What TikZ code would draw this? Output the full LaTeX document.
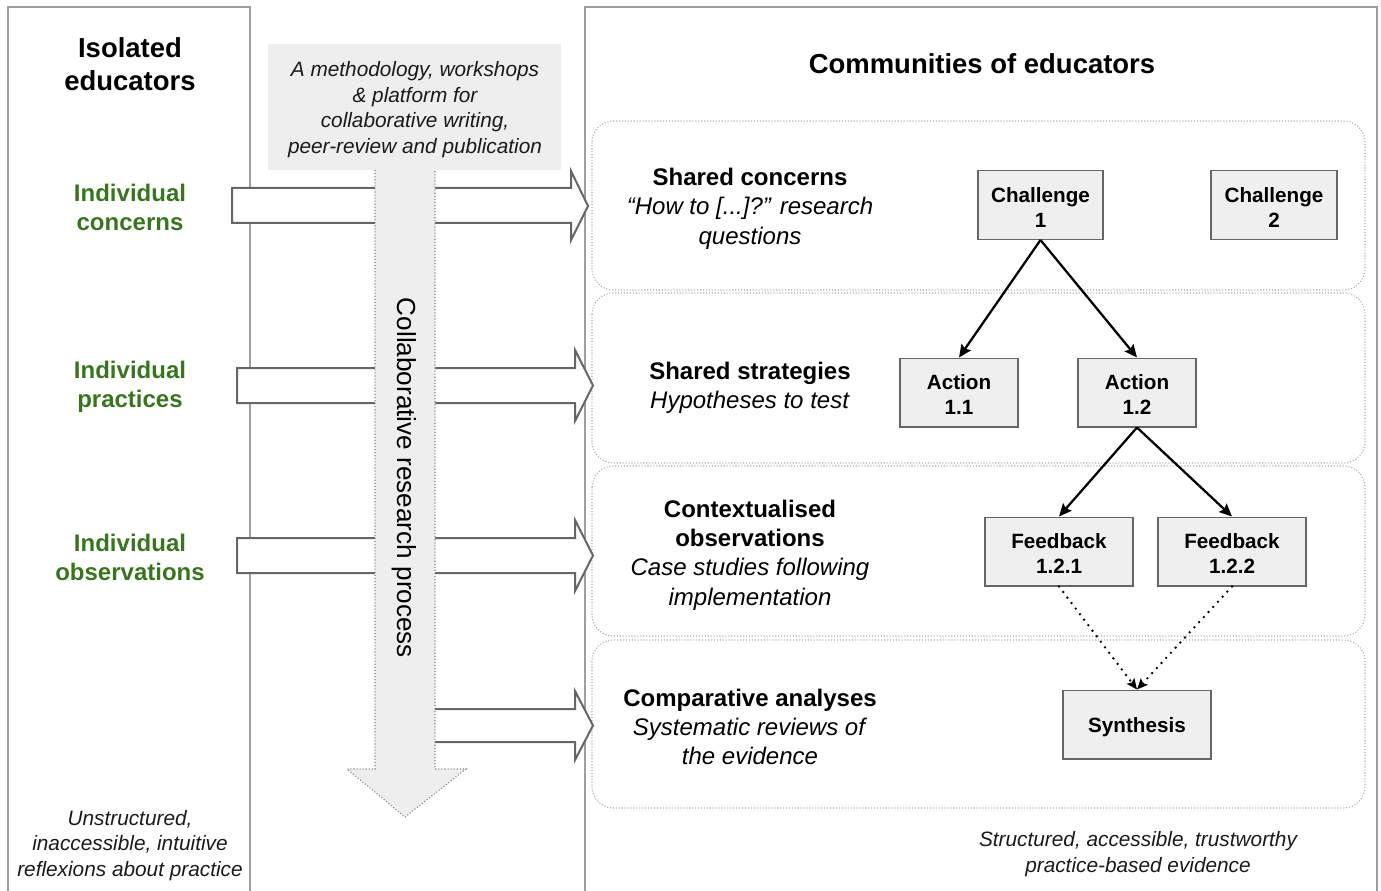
\documentclass[tikz,border=0pt]{standalone}
\usepackage{fontspec}
\setmainfont{Liberation Sans}
\usetikzlibrary{arrows.meta}
\definecolor{framegray}{HTML}{9E9E9E}
\definecolor{boxfill}{HTML}{EFEFEF}
\definecolor{boxline}{HTML}{666666}
\definecolor{arrline}{HTML}{666666}
\definecolor{dotgray}{HTML}{AAAAAA}
\definecolor{edgreen}{HTML}{38761D}
\definecolor{lightfill}{HTML}{EEEEEE}
\definecolor{txtdark}{HTML}{1A1A1A}
\newcommand{\tstrut}{\rule{0pt}{14.5pt}}
\begin{document}
\begin{tikzpicture}[x=0.75pt,y=-0.75pt,
  title/.style={font=\fontsize{20.6}{24.75}\selectfont\bfseries, align=center, inner sep=0pt},
  greenlab/.style={font=\fontsize{18}{21.75}\selectfont\bfseries, text=edgreen, align=center, inner sep=0pt},
  bandtxt/.style={font=\fontsize{18}{22}\selectfont, align=center, inner sep=0pt},
  smallit/.style={font=\fontsize{15.6}{19.1}\selectfont\itshape, align=center, inner sep=0pt, text=txtdark},
  treebox/.style={draw=boxline, fill=boxfill, line width=1pt, font=\fontsize{15.5}{18.75}\selectfont\bfseries, align=center, inner sep=0pt, minimum height=51.5pt},
  band/.style={draw=dotgray, line width=0.8pt, dash pattern=on 0.8pt off 1.4pt, rounded corners=16pt},
  frame/.style={draw=framegray, line width=1.2pt},
  blockarrow/.style={draw=arrline, fill=white, line width=1.5pt, line join=miter},
  treearrow/.style={draw=black, line width=1.7pt, -{Stealth[length=9.5pt,width=8.5pt,inset=1.5pt]}},
  dotarrow/.style={draw=black, line width=2pt, dash pattern=on 0pt off 5.2pt, line cap=round, -{Stealth[length=8pt,width=7pt,inset=1.5pt]}}
]
\useasboundingbox (0,0) rectangle (1381,891);
\clip (0,0) rectangle (1381,891);

% frames
\draw[frame] (8,910) -- (8,7) -- (250,7) -- (250,910);
\draw[frame] (585,910) -- (585,7) -- (1377,7) -- (1377,910);

% bands
\draw[band] (592,121) rectangle (1365,290);
\draw[band] (592,293) rectangle (1365,463);
\draw[band] (592,466) rectangle (1365,636);
\draw[band] (592,640) rectangle (1365,808);

% method box
\fill[lightfill] (268,44) rectangle (561,170);
\node[smallit] (method) at (415,109.5) {A methodology, workshops\\ \& platform for\\ collaborative writing,\\ peer-review and publication};

% block arrows
\draw[blockarrow] (232,188) -- (571,188) -- (571,171) -- (588,206) -- (571,240) -- (571,223) -- (232,223) -- cycle;
\draw[blockarrow] (237,368) -- (575,368) -- (575,350) -- (593,385.5) -- (575,421) -- (575,403) -- (237,403) -- cycle;
\draw[blockarrow] (237,538) -- (575,538) -- (575,520) -- (593,555.5) -- (575,591) -- (575,573) -- (237,573) -- cycle;
\draw[blockarrow] (400,709) -- (575,709) -- (575,691) -- (593,725.5) -- (575,760) -- (575,742) -- (400,742) -- cycle;

% vertical process arrow
\fill[lightfill] (375,170) -- (375,769) -- (347,769) -- (405,817) -- (466,769) -- (435,769) -- (435,170) -- cycle;
\draw[draw=gray, line width=0.8pt, dash pattern=on 0.8pt off 1.5pt] (375,170) -- (375,769) -- (347,769) -- (405,817) -- (466,769) -- (435,769) -- (435,170);
\node[rotate=-90, font=\fontsize{19.6}{23}\selectfont, inner sep=0pt] (proc) at (404,478) {Collaborative research process};

% titles
\node[title] (iso) at (130,64) {Isolated\\educators};
\node[title] (comm) at (982,64) {Communities of educators};

% green labels
\node[greenlab] (ic) at (130,207.5) {Individual\\concerns};
\node[greenlab] (ip) at (130,387) {Individual\\practices};
\node[greenlab] (io) at (130,557) {Individual\\observations};

% band texts
\node[bandtxt] (sc) at (750,208.5) {\textbf{Shared concerns}\\\textit{“How to [...]?” research}\\\textit{questions}};
\node[bandtxt] (ss) at (750,387.5) {\textbf{Shared strategies}\\\textit{Hypotheses to test}};
\node[bandtxt] (co) at (750,555) {\textbf{Contextualised}\\\textbf{observations}\\\textit{Case studies following}\\\textit{implementation}};
\node[bandtxt] (ca) at (750,727) {\textbf{Comparative analyses}\\\textit{Systematic reviews of}\\\textit{the evidence}};

% bottom texts
\node[smallit] (unst) at (130,845.5) {Unstructured,\\inaccessible, intuitive\\reflexions about practice};
\node[smallit] (struct) at (1138,854) {Structured, accessible, trustworthy\\practice-based evidence};

% tree
\node[treebox, minimum width=93.75pt] (ch1) at (1040.5,205) {\tstrut Challenge\\1};
\node[treebox, minimum width=94.5pt] (ch2) at (1274,205) {\tstrut Challenge\\2};
\node[treebox, minimum width=88.5pt] (a11) at (959,392.5) {\tstrut Action\\1.1};
\node[treebox, minimum width=88.5pt] (a12) at (1137,392.5) {\tstrut Action\\1.2};
\node[treebox, minimum width=111pt] (f121) at (1059,551.5) {\tstrut Feedback\\1.2.1};
\node[treebox, minimum width=111pt] (f122) at (1232,551.5) {\tstrut Feedback\\1.2.2};
\node[treebox, minimum width=111pt] (syn) at (1137,724.5) {\rule{0pt}{15.5pt}Synthesis};

\draw[treearrow] (ch1.south) -- (a11.north);
\draw[treearrow] (ch1.south) -- (a12.north);
\draw[treearrow] (a12.south) -- (f121.north);
\draw[treearrow] (a12.south) -- (f122.north);
\draw[dotarrow] (f121.south) -- (syn.north);
\draw[dotarrow] (f122.south) -- (syn.north);
\end{tikzpicture}
\end{document}
